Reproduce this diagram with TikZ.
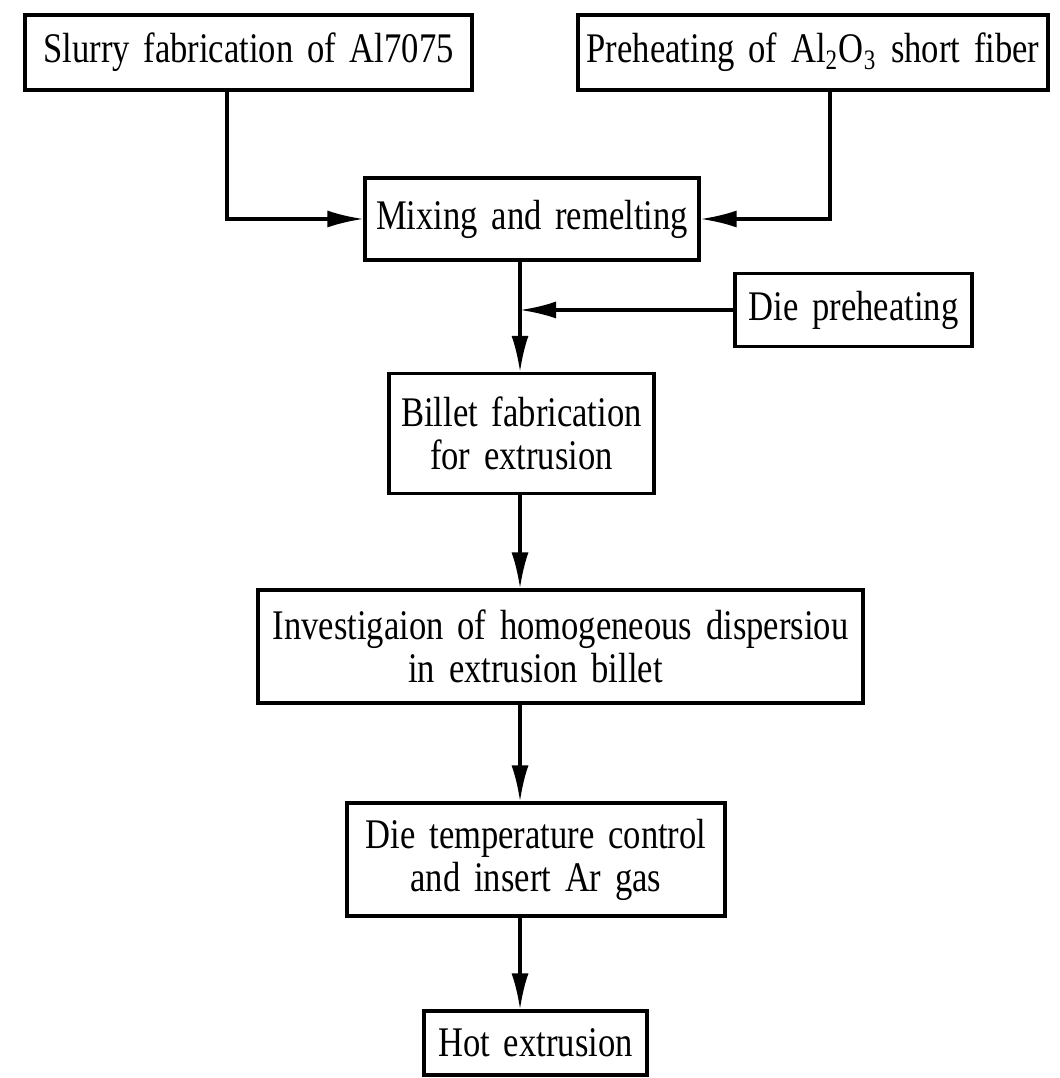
\documentclass[tikz,border=0pt]{standalone}
\usepackage{fontspec}
\setmainfont[FakeStretch=0.82, WordSpace=1.6]{Liberation Serif}
\usetikzlibrary{arrows.meta, positioning, calc}

\begin{document}
\begin{tikzpicture}[scale=1,
                stepbox/.style={draw, line width=0.9pt, inner sep=0pt, align=center, font=\fontsize{12}{12.2}\selectfont},
                flow/.style={line width=0.9pt, -{Latex[length=3.6mm, width=1.7mm]}}]
                \useasboundingbox (0,0) rectangle (10.59,-10.78);
                % Process boxes
                \node[stepbox, minimum width=4.47cm, minimum height=0.75cm] (slurry) at (2.485,-0.525) {Slurry fabrication of Al7075};
                \node[stepbox, minimum width=4.70cm, minimum height=0.75cm] (preheat) at (8.13,-0.525) {Preheating of Al\textsubscript{2}O\textsubscript{3} short fiber};
                \node[stepbox, minimum width=3.34cm, minimum height=0.82cm] (mixing) at (5.32,-2.19) {Mixing and remelting};
                \node[stepbox, minimum width=2.37cm, minimum height=0.73cm] (diepre) at (8.535,-3.10) {Die preheating};
                \node[stepbox, minimum width=2.65cm, minimum height=1.20cm] (billet) at (5.215,-4.335) {Billet fabrication\\for extrusion};
                \node[stepbox, minimum width=6.05cm, minimum height=1.13cm] (invest) at (5.605,-6.465) {Investigaion of homogeneous dispersiou\\in extrusion billet\hspace*{0.5cm}};
                \node[stepbox, minimum width=3.78cm, minimum height=1.13cm] (dietemp) at (5.36,-8.595) {Die temperature control\\and insert Ar gas};
                \node[stepbox, minimum width=2.23cm, minimum height=0.64cm] (hot) at (5.355,-10.43) {Hot extrusion};
                % Branch lines
                \coordinate (lbranch) at (2.27,0);
                \coordinate (rbranch) at (8.30,0);
                \coordinate (trunk) at (5.20,0);
                \draw[flow] (slurry.south -| lbranch) |- (mixing.west);
                \draw[flow] (preheat.south -| rbranch) |- (mixing.east);
                \draw[flow] (mixing.south -| trunk) -- (billet.north -| trunk);
                \draw[flow] (diepre.west) -- (diepre.west -| trunk);
                \draw[flow] (billet.south -| trunk) -- (invest.north -| trunk);
                \draw[flow] (invest.south -| trunk) -- (dietemp.north -| trunk);
                \draw[flow] (dietemp.south -| trunk) -- (hot.north -| trunk);
            \end{tikzpicture}
\end{document}
